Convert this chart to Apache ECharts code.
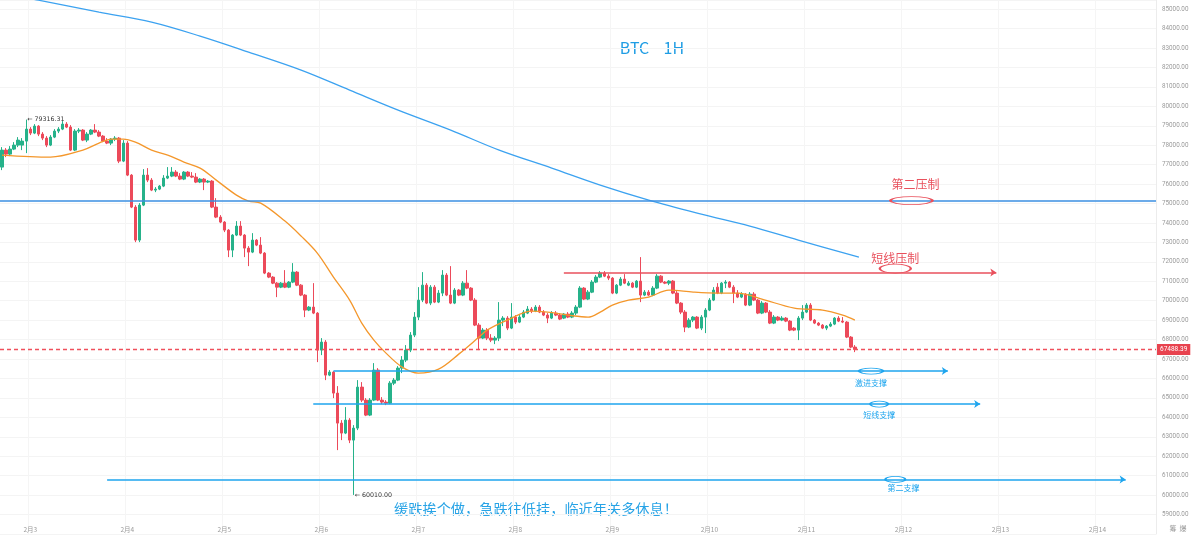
<!DOCTYPE html>
<html>
<head>
<meta charset="utf-8">
<script src="https://cdn.jsdelivr.net/npm/echarts@6/dist/echarts.min.js"></script>
<style>html,body{margin:0;padding:0;background:#fff}#c{width:1200px;height:536px}</style>
</head>
<body>
<div id="c"></div>
<script>
// ---- time axis: hourly slots starting 2月2 17:00 ----
const startDay = 2, startHour = 17, slotCount = 286;
const categories = [];
for (let k = 0; k < slotCount; k++) {
  const h = startHour + k;
  categories.push('2月' + (startDay + Math.floor(h / 24)) + ' ' + (h % 24) + ':00');
}

// ---- candles (BTC 1H) ----
const opens = [76873,77747,77541,77798,78004,78004,78210,78827,78622,78982,78570,78364,78004,78416,78724,78827,79085,78930,77747,78724,78776,78261,78570,78776,78673,78467,78210,78107,78313,78364,
77181,78107,76461,74815,73117,74918,76461,76204,75689,75741,75895,76307,76410,76616,76410,76256,76615,76410,76358,76101,76256,76101,76153,74815,74301,74044,73632,72603,73375,73838,
73375,72706,72500,73117,72860,72449,71420,71214,70905,70699,70905,70699,70957,71471,70802,70288,69517,69671,69362,67459,67871,66173,66327,65247,63704,63190,63858,62829,63447,65556,
64887,64115,64887,66430,64887,64784,64732,65761,65916,66533,66945,67459,68231,69157,70031,70802,69877,70699,69928,70391,71317,70288,69877,70545,70288,70905,70648,70031,68745,68076,
68488,68076,67974,68076,69002,69105,68591,69157,68899,69157,69362,69568,69465,69671,69414,69260,69105,69362,69260,69105,69311,69157,69362,69671,70648,70082,70442,70957,71214,71420,
71265,71163,70391,70802,71111,70802,70905,70699,71008,70288,70442,70288,70648,71265,70957,70905,71008,70391,69877,69414,68642,69002,69157,68591,69157,69517,70031,70699,70391,70905,
70957,70699,70391,70185,70339,69774,70339,70031,69362,69877,69414,68848,69157,69002,69105,68951,68591,68488,69105,69414,69774,69002,68848,68745,68591,68694,68797,69105,68951,68899,
68128,67614];
const closes = [77747,77541,77798,78004,78261,78210,78827,78622,78982,78570,78364,78004,78416,78724,78827,79085,78930,77747,78724,78776,78261,78570,78776,78673,78467,78210,78107,78313,78364,77181,
78107,76461,74815,73117,74918,76461,76204,75689,75741,75895,76307,76410,76616,76410,76256,76615,76410,76358,76101,76256,76101,76153,74815,74301,74044,73632,72603,73375,73838,73375,
72706,72500,73117,72860,72449,71420,71214,70905,70699,70905,70699,70957,71471,70802,70288,69517,69671,69362,67459,67871,66173,66327,65247,63704,63190,63858,62829,63447,65556,64887,
64115,64887,66430,64887,64784,64732,65761,65916,66533,66945,67459,68231,69157,70031,70802,69877,70699,69928,70391,71317,70288,69877,70545,70288,70905,70648,70031,68745,68076,68488,
68076,67974,68076,69002,69105,68591,69157,68899,69157,69414,69568,69465,69671,69414,69260,69105,69362,69260,69054,69311,69157,69362,69671,70648,70082,70442,70957,71214,71420,71265,
71163,70391,70802,71111,70905,70905,70699,71008,70288,70442,70288,70648,71265,70957,70905,71008,70391,69877,69414,68642,69002,69157,68591,69157,69517,70031,70545,70391,70905,70957,
70699,70391,70185,70339,69774,70339,70031,69362,69877,69414,68848,69157,69002,69105,68951,68488,68488,69105,69414,69774,69002,68848,68745,68591,68694,68797,69105,68951,68899,68128,
67614,67488.39];
const lows = [76718,77387,77438,77747,77901,77747,77593,78519,78570,78467,78261,77901,77953,78364,78622,78776,78879,77696,77696,78622,78210,78158,78519,78622,78416,78158,78055,78004,78210,77078,
77130,76410,74764,73014,73014,74867,76101,75638,75586,75689,75844,76256,76358,76358,76204,76204,76358,76307,76050,76050,75689,76050,74764,74249,73992,73529,72243,72243,73323,73323,
72243,71780,72449,72809,72397,71368,71163,70854,70185,70648,70648,70648,70905,70751,70236,69157,69465,69311,66842,67202,65916,66121,64990,62315,62829,63138,62675,60010,63344,64784,
64064,64064,64836,64836,64681,64630,64681,65659,65864,66276,66842,67356,68128,69002,69928,69825,69774,69877,69877,70236,70236,69825,69825,70236,70236,70597,69980,68694,67459,68025,
67974,67871,67768,67922,68694,68488,68539,68797,68848,69105,69311,69362,69414,69362,69208,68848,69054,69208,69002,69054,69105,69105,69260,69620,70031,70031,70391,70905,71163,71214,
71060,70339,70339,70751,70854,70751,70648,70648,69928,70236,70236,70236,70597,70905,70854,70802,70339,69825,69311,68385,68591,68899,68539,68488,68334,69465,69980,70339,70339,70648,
70648,69877,70134,70134,69723,69723,69980,69311,69311,69362,68797,68797,68951,68951,68899,68436,68436,67974,69002,69362,68951,68797,68694,68539,68488,68642,68745,68899,68848,68076,
67562,67356];
const highs = [77901,77850,77953,78158,78416,78364,79316.31,78930,79085,79033,78673,78467,78519,78827,78930,79239,79188,79033,78827,78879,78827,78673,78827,79085,78776,78519,78364,78364,78467,78416,
78261,78210,76513,74918,75021,76770,76821,76307,75844,75947,76461,76873,76873,76718,76564,76667,76667,76615,76564,76307,76307,76204,76204,75278,74404,74095,73683,73426,74095,74095,
73426,72809,73477,73169,73272,72500,71471,71265,70957,70957,71574,71008,71934,71523,70854,70339,69723,70905,69414,68076,67974,66430,66379,65607,63858,64527,63961,63601,65916,65813,
64990,64990,66790,66533,65041,64887,65864,66019,66636,67151,67717,68385,69414,70699,71471,70905,70802,70802,70545,71574,71420,71780,70648,70597,71008,71574,70699,70134,68848,68591,
68591,68282,68179,69928,69208,69208,69877,69260,69260,69517,69723,69671,69774,69774,69517,69362,69465,69465,69362,69362,69414,69465,69774,70751,70699,70545,71060,71317,71523,71523,
71368,71214,70854,71214,71368,71008,70957,71060,72243,70545,70545,70751,71368,71317,71008,71060,71060,70494,69928,69517,69105,69208,69208,69260,69620,70134,70699,70905,70957,71060,
71008,70802,70545,70442,70391,70442,70442,70082,69980,69928,69517,69260,69208,69208,69157,69002,68642,69208,69774,69877,69877,69054,68899,68797,68745,68899,69157,69208,69157,68951,
68179,67717];

// ---- moving averages (slot index, price) ----
const maShortIdx = [0,12,20,24,27,30,33,37,41,45,49,53,58,61,64,70,74,78,82,86,89,92,95,99,103,108,113,118,120,125,131,135,140,145,148,151,155,160,165,171,177,182,188,196,203,208,211];
const maShortVal = [77490,77387,77747,78107,78313,78313,78158,77747,77490,77130,76821,76204,75432,75124,75020,74095,73323,72449,71214,70031,68848,67974,67305,66585,66276,66482,67253,68128,68488,69002,69465,69414,69260,69157,69414,69774,70031,70186,70546,70443,70391,70391,70083,69620,69517,69260,69002];
const maLongIdx = [4,9,24,37,49,61,74,86,98,111,123,136,148,160,173,185,197,212];
const maLongVal = [85650,85460,84846,84331,83611,82788,81862,80834,79805,78776,77747,76821,75946,75175,74455,73838,73117,72243];

// ---- annotation levels ----
const lastPrice = 67488.39;
const secondResist = 75130;
const shortResist = {from: 139, to: 246, price: 71456};
const supports = [
  {from: 82, to: 234, price: 66379, name: '激进支撑', ell: 214.5, w: 24, tx: 215, ty: 65762},
  {from: 77, to: 242, price: 64681, name: '短线支撑', ell: 216.6, w: 18, tx: 217, ty: 64116},
  {from: 26, to: 278, price: 60807, name: '第二支撑', ell: 221.4, w: 20, tx: 223, ty: 60360}
];
const highMark = {idx: 6, price: 79316.31};
const lowMark = {idx: 87, price: 60010.00};

const RED = '#ec4a5a', GREEN = '#26b28a', SKY = '#1ea5ee', ANN_RED = '#e9505c', DASH_RED = '#f0505c';

const candleData = opens.map((o, i) => [o, closes[i], lows[i], highs[i]]);
const dayTick = (idx, val) => / 0:00$/.test(val);

const chart = echarts.init(document.getElementById('c'), null, {renderer: 'canvas'});
chart.setOption({
  animation: false,
  backgroundColor: '#ffffff',
  grid: {left: 0, right: 44, top: 0, bottom: 2, containLabel: false},
  xAxis: {
    type: 'category', data: categories, boundaryGap: true,
    axisLine: {show: false}, axisTick: {show: false, alignWithLabel: true},
    axisLabel: {interval: dayTick, formatter: v => v.split(' ')[0], inside: true, margin: 1,
      fontSize: 6.5, color: '#9a9a9a', fontFamily: 'Noto Sans CJK SC'},
    splitLine: {show: true, interval: dayTick, lineStyle: {color: '#f5f5f5', width: 1}}
  },
  yAxis: {
    type: 'value', position: 'right', min: 58000, max: 85469, interval: 1000,
    axisLine: {show: true, lineStyle: {color: '#ececec'}}, axisTick: {show: false},
    axisLabel: {formatter: v => (v <= 58000 || v % 1000 !== 0) ? '' : v.toFixed(2), fontSize: 6.3, color: '#9a9a9a', margin: 6, fontFamily: 'Roboto'},
    splitLine: {show: true, lineStyle: {color: '#f4f4f4'}}
  },
  series: [
    {
      type: 'candlestick', data: candleData, barWidth: 3,
      itemStyle: {color: GREEN, color0: RED, borderColor: GREEN, borderColor0: RED, borderWidth: 1}
    },
    {
      type: 'line', data: maShortIdx.map((x, i) => [x, maShortVal[i]]), smooth: 0.35,
      showSymbol: false, lineStyle: {color: '#f4972b', width: 1.3}, z: 3,
      markLine: {
        silent: true, symbol: 'none', animation: false, precision: 2,
        lineStyle: {color: DASH_RED, type: [4, 3], width: 1.3},
        data: [
          {yAxis: lastPrice, lineStyle: {color: DASH_RED, type: [4, 3], width: 1.3, opacity: 1},
           label: {show: true, position: 'end', distance: 1, formatter: lastPrice.toFixed(2), color: '#fff',
             backgroundColor: '#e8434f', padding: [2, 3, 2, 3], fontSize: 6.5, fontFamily: 'Roboto'}}
        ]
      }
    },
    {
      type: 'line', data: maLongIdx.map((x, i) => [x, maLongVal[i]]), smooth: 0.35,
      showSymbol: false, lineStyle: {color: '#3ca2f0', width: 1.3}, z: 3,
      markLine: {
        silent: true, symbol: 'none', animation: false,
        data: [
          {yAxis: secondResist, lineStyle: {color: '#3b8fe2', type: 'solid', width: 1.5}, label: {show: false}},
          [{coord: [shortResist.from, shortResist.price], symbol: 'none'},
           {coord: [shortResist.to, shortResist.price], symbol: 'arrow', symbolSize: 6,
            lineStyle: {color: ANN_RED, type: 'solid', width: 1.5}, label: {show: false}}]
        ].concat(supports.map(s => [
          {coord: [s.from, s.price], symbol: 'none'},
          {coord: [s.to, s.price], symbol: 'arrow', symbolSize: 6,
           lineStyle: {color: SKY, type: 'solid', width: 1.5}, label: {show: false}}
        ]))
      },
      markPoint: {
        silent: true, animation: false,
        data: [
          {coord: [highMark.idx, highMark.price], symbol: 'circle', symbolSize: 0,
           label: {show: true, position: 'right', distance: 0, offset: [1, 0], formatter: '← ' + highMark.price.toFixed(2), color: '#333', fontSize: 6.3, fontFamily: 'DejaVu Sans'}},
          {coord: [lowMark.idx, lowMark.price], symbol: 'circle', symbolSize: 0,
           label: {show: true, position: 'right', distance: 0, offset: [1, 0], formatter: '← ' + lowMark.price.toFixed(2), color: '#333', fontSize: 6.3, fontFamily: 'DejaVu Sans'}},
          {coord: [225, 75149], symbol: 'circle', symbolSize: [42, 8],
           itemStyle: {color: 'rgba(0,0,0,0)', borderColor: ANN_RED, borderWidth: 1.3}, label: {show: false}},
          {coord: [221, 71651], symbol: 'circle', symbolSize: [31, 9],
           itemStyle: {color: 'rgba(0,0,0,0)', borderColor: ANN_RED, borderWidth: 1.3}, label: {show: false}},
          {coord: [226, 75998], symbol: 'circle', symbolSize: 0,
           label: {show: true, position: 'inside', formatter: '第二压制', color: ANN_RED, fontSize: 12, fontFamily: 'Noto Sans CJK SC'}},
          {coord: [221, 72192], symbol: 'circle', symbolSize: 0,
           label: {show: true, position: 'inside', formatter: '短线压制', color: ANN_RED, fontSize: 12, fontFamily: 'Noto Sans CJK SC'}}
        ].concat(supports.map(s => ({
          coord: [s.ell, s.price], symbol: 'circle', symbolSize: [s.w, 6],
          itemStyle: {color: 'rgba(0,0,0,0)', borderColor: SKY, borderWidth: 1.3}, label: {show: false}
        }))).concat(supports.map(s => ({
          coord: [s.tx, s.ty], symbol: 'circle', symbolSize: 0,
          label: {show: true, position: 'inside', formatter: s.name, color: SKY, fontSize: 8, fontFamily: 'Noto Sans CJK SC'}
        })))
      }
    }
  ],
  graphic: [
    {type: 'text', style: {x: 652, y: 48, text: 'BTC    1H', fill: '#1f9de4', font: '16px "Noto Sans CJK SC"', textAlign: 'center', textVerticalAlign: 'middle'}},
    {type: 'text', style: {x: 536, y: 509, text: '缓跌挨个做，急跌往低挂，临近年关多休息！', fill: '#27a3e6', font: '14.2px "Noto Sans CJK SC"', textAlign: 'center', textVerticalAlign: 'middle'}},
    {type: 'text', style: {x: 1178, y: 528, text: '筹  爆', fill: '#9a9a9a', font: '7px "Noto Sans CJK SC"', textAlign: 'center', textVerticalAlign: 'middle'}}
  ]
});
</script>
</body>
</html>
